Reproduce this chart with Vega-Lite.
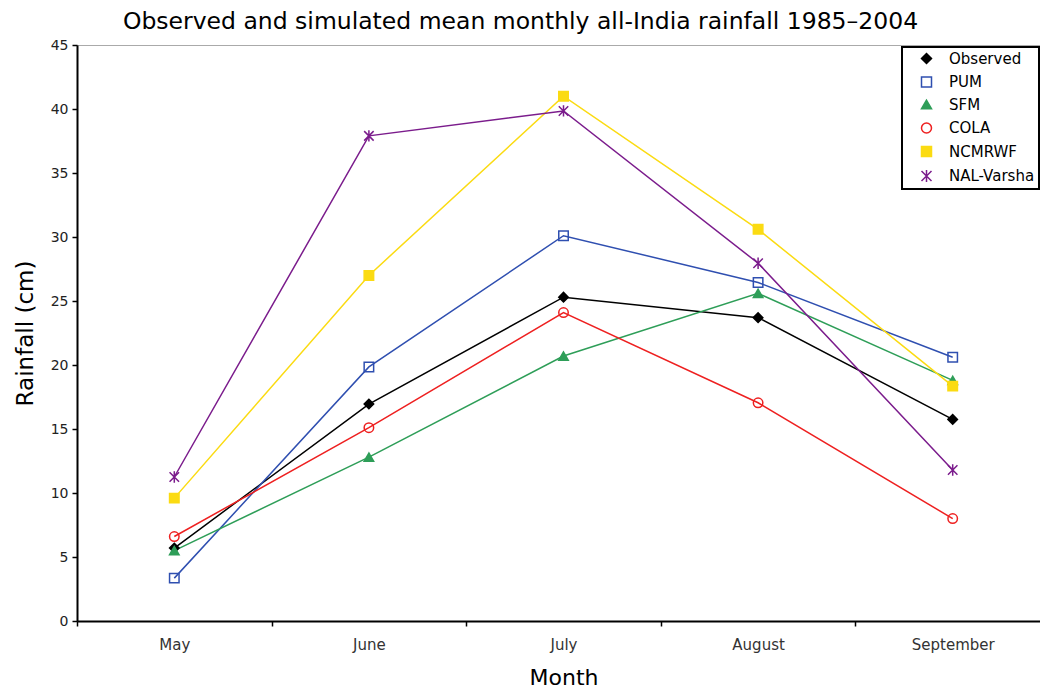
{
  "$schema": "https://vega.github.io/schema/vega-lite/v6.json",
  "width": 963,
  "height": 576,
  "autosize": {"type": "none"},
  "padding": {"left": 77, "top": 45, "right": 0, "bottom": 68},
  "background": "white",
  "title": {
    "text": "Observed and simulated mean monthly all-India rainfall 1985–2004",
    "font": "DejaVu Sans",
    "fontSize": 23.5,
    "fontWeight": "normal",
    "color": "#000000",
    "anchor": "middle",
    "dx": -38,
    "offset": 5
  },
  "config": {
    "font": "DejaVu Sans",
    "view": {"stroke": "#aaaaaa", "strokeWidth": 1},
    "legend": {
      "strokeColor": "#000000",
      "fillColor": "#ffffff",
      "padding": 4,
      "symbolSize": 100,
      "symbolStrokeWidth": 1.5,
      "symbolOffset": 13,
      "labelOffset": 15,
      "labelFontSize": 15,
      "labelColor": "#000000",
      "rowPadding": 6.5
    }
  },
  "data": {
    "values": [
      {"month": "May", "series": "Observed", "value": 5.7},
      {"month": "June", "series": "Observed", "value": 16.95},
      {"month": "July", "series": "Observed", "value": 25.3},
      {"month": "August", "series": "Observed", "value": 23.7},
      {"month": "September", "series": "Observed", "value": 15.75},
      {"month": "May", "series": "PUM", "value": 3.35},
      {"month": "June", "series": "PUM", "value": 19.85},
      {"month": "July", "series": "PUM", "value": 30.1},
      {"month": "August", "series": "PUM", "value": 26.45},
      {"month": "September", "series": "PUM", "value": 20.6},
      {"month": "May", "series": "SFM", "value": 5.5},
      {"month": "June", "series": "SFM", "value": 12.8},
      {"month": "July", "series": "SFM", "value": 20.7},
      {"month": "August", "series": "SFM", "value": 25.6},
      {"month": "September", "series": "SFM", "value": 18.8},
      {"month": "May", "series": "COLA", "value": 6.6},
      {"month": "June", "series": "COLA", "value": 15.1},
      {"month": "July", "series": "COLA", "value": 24.1},
      {"month": "August", "series": "COLA", "value": 17.05},
      {"month": "September", "series": "COLA", "value": 8.0},
      {"month": "May", "series": "NCMRWF", "value": 9.6},
      {"month": "June", "series": "NCMRWF", "value": 27.0},
      {"month": "July", "series": "NCMRWF", "value": 41.0},
      {"month": "August", "series": "NCMRWF", "value": 30.6},
      {"month": "September", "series": "NCMRWF", "value": 18.35},
      {"month": "May", "series": "NAL-Varsha", "value": 11.25},
      {"month": "June", "series": "NAL-Varsha", "value": 37.9},
      {"month": "July", "series": "NAL-Varsha", "value": 39.85},
      {"month": "August", "series": "NAL-Varsha", "value": 27.95},
      {"month": "September", "series": "NAL-Varsha", "value": 11.8}
    ]
  },
  "encoding": {
    "x": {
      "field": "month",
      "type": "nominal",
      "sort": ["May", "June", "July", "August", "September"],
      "bandPosition": 0.5,
      "scale": {"type": "band", "paddingInner": 0, "paddingOuter": 0, "range": [0, 973]},
      "axis": {
        "title": "Month",
        "titleFontSize": 22,
        "titleFontWeight": "normal",
        "titleColor": "#000000",
        "titlePadding": 15,
        "labelFontSize": 15,
        "labelColor": "#333333",
        "labelPadding": 11,
        "labelAngle": 0,
        "tickBand": "extent",
        "domainColor": "#000000",
        "domainWidth": 2,
        "tickColor": "#000000",
        "tickWidth": 1.5,
        "tickSize": 5,
        "grid": false
      }
    },
    "y": {
      "field": "value",
      "type": "quantitative",
      "scale": {"domain": [0, 45], "nice": false, "zero": true},
      "axis": {
        "title": "Rainfall (cm)",
        "titleFontSize": 23,
        "titleFontWeight": "normal",
        "titleColor": "#000000",
        "titlePadding": 13,
        "labelFontSize": 14,
        "labelColor": "#222222",
        "labelPadding": 4,
        "tickCount": 10,
        "domainColor": "#000000",
        "domainWidth": 2,
        "tickColor": "#000000",
        "tickWidth": 1.5,
        "tickSize": 5,
        "grid": false
      }
    },
    "stroke": {
      "field": "series",
      "type": "nominal",
      "scale": {
        "domain": ["Observed", "PUM", "SFM", "COLA", "NCMRWF", "NAL-Varsha"],
        "range": ["#000000", "#2f4fb0", "#2e9e58", "#ee2020", "#fbdb12", "#7b1c8c"]
      },
      "legend": {
        "title": null,
        "orient": "none",
        "legendX": 825,
        "legendY": 2,
        "encode": {
          "legend": {"update": {"strokeWidth": {"value": 2}}},
          "symbols": {
            "update": {
              "shape": {"signal": "datum.value === 'Observed' ? 'M-3.6,0H3.6M0,-1L1,0L0,1L-1,0Z' : datum.value === 'PUM' ? 'M-3.6,0H3.6M-0.8,-0.8H0.8V0.8H-0.8Z' : datum.value === 'SFM' ? 'M-3.6,0H3.6M0,-0.9L0.95,0.75L-0.95,0.75Z' : datum.value === 'COLA' ? 'M-3.6,0H3.6M0.8,0A0.8,0.8,0,1,1,-0.8,0A0.8,0.8,0,1,1,0.8,0Z' : datum.value === 'NCMRWF' ? 'M-3.6,0H3.6M-0.8,-0.8H0.8V0.8H-0.8Z' : 'M-3.6,0H3.6M-0.8,-0.8L0.8,0.8M-0.8,0.8L0.8,-0.8M0,-0.9V0.9'"},
              "fill": {"signal": "datum.value === 'Observed' ? '#000000' : datum.value === 'SFM' ? '#2e9e58' : datum.value === 'NCMRWF' ? '#fbdb12' : datum.value === 'NAL-Varsha' ? '#7b1c8c' : 'transparent'"},
              "stroke": {"signal": "datum.value === 'Observed' ? '#000000' : datum.value === 'PUM' ? '#2f4fb0' : datum.value === 'SFM' ? '#2e9e58' : datum.value === 'COLA' ? '#ee2020' : datum.value === 'NCMRWF' ? '#fbdb12' : '#7b1c8c'"},
              "strokeWidth": {"value": 1.5},
              "opacity": {"value": 1}
            }
          }
        }
      }
    }
  },
  "layer": [
    {
      "mark": {"type": "line", "strokeWidth": 1.5}
    },
    {
      "mark": {"type": "point", "size": 90, "strokeWidth": 1.5, "opacity": 1, "fillOpacity": 1},
      "encoding": {
        "shape": {
          "field": "series",
          "type": "nominal",
          "scale": {
            "domain": ["Observed", "PUM", "SFM", "COLA", "NCMRWF", "NAL-Varsha"],
            "range": ["diamond", "square", "triangle-up", "circle", "square", "M-1,-1L1,1M-1,1L1,-1M0,-1.2V1.2"]
          },
          "legend": null
        },
        "fill": {
          "field": "series",
          "type": "nominal",
          "scale": {
            "domain": ["Observed", "PUM", "SFM", "COLA", "NCMRWF", "NAL-Varsha"],
            "range": ["#000000", "transparent", "#2e9e58", "transparent", "#fbdb12", "#7b1c8c"]
          },
          "legend": null
        }
      }
    }
  ]
}
